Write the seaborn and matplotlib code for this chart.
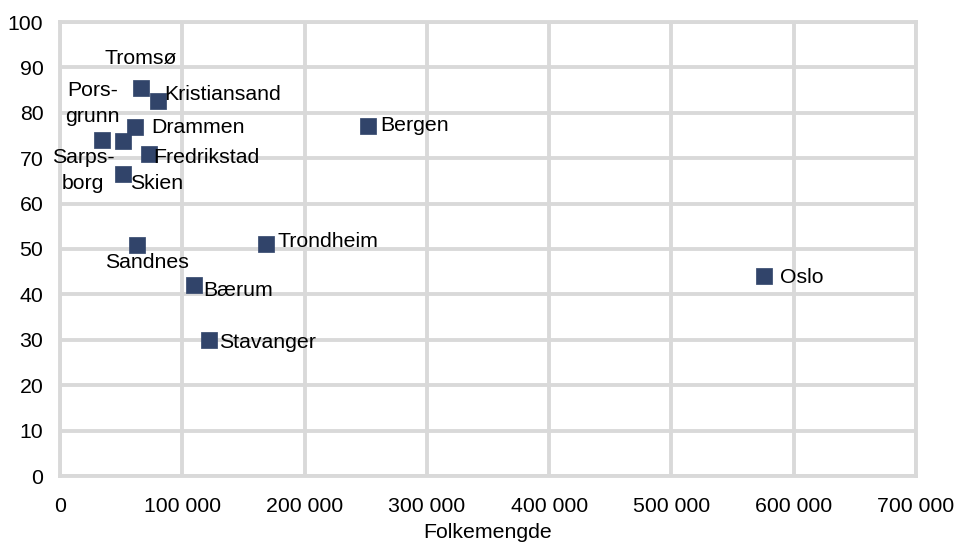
import numpy as np
import pandas as pd
import seaborn as sns
import matplotlib.pyplot as plt

# city data
cities = ["Tromsø", "Kristiansand", "Drammen", "Pors-\ngrunn", "Sarps-\nborg",
          "Fredrikstad", "Skien", "Bergen", "Sandnes", "Trondheim",
          "Bærum", "Stavanger", "Oslo"]
population = [66200, 79900, 61300, 34100, 51800,
              72500, 51300, 252100, 63200, 168200,
              109600, 121600, 575900]
share = [85.4, 82.5, 76.9, 74.1, 73.7,
         71.0, 66.6, 77.2, 50.8, 51.2,
         42.0, 30.0, 44.0]

x_ticks = [0, 100000, 200000, 300000, 400000, 500000, 600000, 700000]
y_ticks = [0, 10, 20, 30, 40, 50, 60, 70, 80, 90, 100]

# label placement (pixel offset from point, horizontal alignment)
label_pos = {
    "Tromsø": (0, 30, "center"),
    "Kristiansand": (7, 7, "left"),
    "Drammen": (16, -1, "left"),
    "Pors-\ngrunn": (-9, 36, "center"),
    "Sarps-\nborg": (-40, -29, "center"),
    "Fredrikstad": (5, -4, "left"),
    "Skien": (7, -10, "left"),
    "Bergen": (12, 0, "left"),
    "Sandnes": (10, -17, "center"),
    "Trondheim": (12, 2, "left"),
    "Bærum": (9, -5, "left"),
    "Stavanger": (10, -3, "left"),
    "Oslo": (16, -1, "left"),
}

df = pd.DataFrame({"city": cities, "pop": population, "share": share})

sns.set_theme(style="whitegrid")
plt.rcParams["font.family"] = ["Liberation Sans", "DejaVu Sans"]

grid_color = "#D9D9D9"
point_color = "#31446A"
fs = 15.3

fig = plt.figure(figsize=(9.58, 5.43), dpi=100)
ax = fig.add_axes([60 / 958, 67 / 543, 856 / 958, 454 / 543])

sns.scatterplot(
    data=df,
    x="pop",
    y="share",
    ax=ax,
    marker="s",
    s=120,
    color=point_color,
    edgecolor=point_color,
    linewidth=0.5,
    zorder=3
)

for _, row in df.iterrows():
    dx, dy, ha = label_pos[row["city"]]
    ax.annotate(
        row["city"],
        (row["pop"], row["share"]),
        xytext=(dx, dy),
        textcoords="offset pixels",
        ha=ha,
        va="center",
        fontsize=fs,
        color="black",
        linespacing=1.45,
        zorder=4
    )

ax.set_xlim(0, 700000)
ax.set_ylim(0, 100)
ax.set_xticks(x_ticks)
ax.set_yticks(y_ticks)
ax.set_xticklabels([f"{v:,}".replace(",", " ") for v in x_ticks])

ax.grid(True, color=grid_color, linewidth=2.8)
ax.set_axisbelow(True)
for spine in ax.spines.values():
    spine.set_visible(True)
    spine.set_color(grid_color)
    spine.set_linewidth(2.8)

ax.tick_params(axis="x", length=0, pad=15, labelsize=fs, labelcolor="black")
ax.tick_params(axis="y", length=0, pad=12, labelsize=fs, labelcolor="black")

ax.set_xlabel("Folkemengde", fontsize=fs, color="black", labelpad=5)
ax.set_ylabel("")

fig.savefig("out.png", dpi=100)
